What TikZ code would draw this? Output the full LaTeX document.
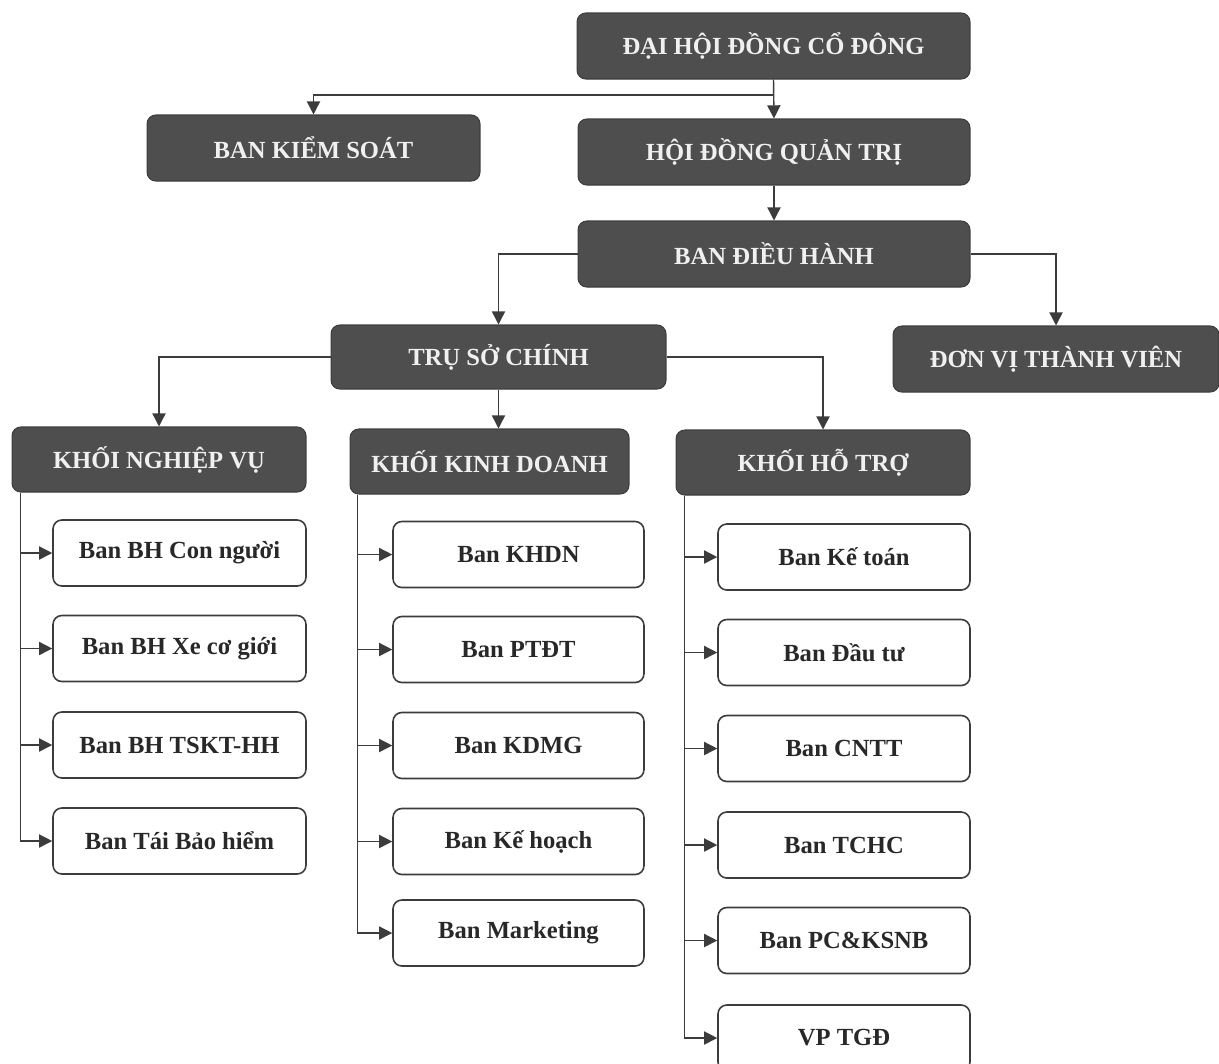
\documentclass[tikz,border=0pt]{standalone}
\usepackage{fontspec}
\setmainfont{Liberation Serif}
\usetikzlibrary{arrows.meta}
\definecolor{boxdark}{RGB}{78,78,78}
\definecolor{linecol}{RGB}{60,60,60}
\definecolor{txtdark}{RGB}{40,40,40}
\tikzset{
  darkbox/.style={rectangle, rounded corners=5pt, fill=boxdark, draw=boxdark!80!black, line width=0.6pt,
    text=white!94!black, font=\fontsize{14}{16}\selectfont\bfseries, inner sep=0pt, minimum height=1.32cm},
  lightbox/.style={rectangle, rounded corners=5pt, fill=white, draw=linecol, line width=0.9pt,
    text=txtdark, font=\fontsize{14}{16}\selectfont\bfseries, inner sep=0pt, minimum height=1.32cm},
  conn/.style={draw=linecol, line width=0.8pt},
  arr/.style={conn, -{Triangle[width=7.5pt,length=7.5pt]}},
  x=0.02cm, y=-0.02cm
}
\begin{document}
\begin{tikzpicture}
\clip (0,0) rectangle (1219,1063);
\fill[white] (0,0) rectangle (1219,1063);
% dark boxes
\node[darkbox, minimum width=7.86cm] (dh) at (773.5,46) {ĐẠI HỘI ĐỒNG CỔ ĐÔNG};
\node[darkbox, minimum width=6.66cm] (bks) at (313.5,148) {BAN KIỂM SOÁT};
\node[darkbox, minimum width=7.84cm] (hdqt) at (774,152) {HỘI ĐỒNG QUẢN TRỊ};
\node[darkbox, minimum width=7.84cm] (bdh) at (774,254) {BAN ĐIỀU HÀNH};
\node[darkbox, minimum width=6.7cm, minimum height=1.28cm] (tsc) at (498.5,357) {TRỤ SỞ CHÍNH};
\node[darkbox, minimum width=6.52cm] (dvtv) at (1056,359) {ĐƠN VỊ THÀNH VIÊN};
\node[darkbox, minimum width=5.88cm, minimum height=1.3cm] (knv) at (159,459.5) {KHỐI NGHIỆP VỤ};
\node[darkbox, minimum width=5.58cm, minimum height=1.3cm] (kkd) at (489.5,461.5) {KHỐI KINH DOANH};
\node[darkbox, minimum width=5.88cm, minimum height=1.3cm] (kht) at (823,462.5) {KHỐI HỖ TRỢ};
% light boxes: nghiep vu
\node[lightbox, minimum width=5.06cm] (n1) at (179.5,553) {Ban BH Con người};
\node[lightbox, minimum width=5.06cm] (n2) at (179.5,648.5) {Ban BH Xe cơ giới};
\node[lightbox, minimum width=5.06cm] (n3) at (179.5,745) {Ban BH TSKT-HH};
\node[lightbox, minimum width=5.06cm] (n4) at (179.5,841) {Ban Tái Bảo hiểm};
% kinh doanh
\node[lightbox, minimum width=5.02cm] (k1) at (518.5,554.5) {Ban KHDN};
\node[lightbox, minimum width=5.02cm] (k2) at (518.5,649.5) {Ban PTĐT};
\node[lightbox, minimum width=5.02cm] (k3) at (518.5,745.5) {Ban KDMG};
\node[lightbox, minimum width=5.02cm] (k4) at (518.5,841.5) {Ban Kế hoạch};
\node[lightbox, minimum width=5.02cm] (k5) at (518.5,933) {Ban Marketing};
% ho tro
\node[lightbox, minimum width=5.04cm] (h1) at (844,557) {Ban Kế toán};
\node[lightbox, minimum width=5.04cm] (h2) at (844,652.5) {Ban Đầu tư};
\node[lightbox, minimum width=5.04cm] (h3) at (844,748.5) {Ban CNTT};
\node[lightbox, minimum width=5.04cm] (h4) at (844,845) {Ban TCHC};
\node[lightbox, minimum width=5.04cm] (h5) at (844,940.5) {Ban PC\&KSNB};
\node[lightbox, minimum width=5.04cm] (h6) at (844,1038) {VP TGĐ};
% connectors top
\coordinate (j1) at (773,95);
\draw[arr] (dh.south) -- (hdqt.north);
\draw[arr] (j1) -| (bks.north);
\draw[arr] (hdqt.south) -- (bdh.north);
\draw[arr] (bdh.west) -| (tsc.north);
\draw[arr] (bdh.east) -| (dvtv.north);
\draw[arr] (tsc.west) -| (knv.north);
\draw[arr] (tsc.south) -- (kkd.north -| tsc.south);
\draw[arr] (tsc.east) -| (kht.north);
% trunks
\foreach \c in {n1,n2,n3,n4}
  \draw[arr] ([xshift=0.18cm]knv.south west) |- (\c.west);
\foreach \c in {k1,k2,k3,k4,k5}
  \draw[arr] ([xshift=0.16cm]kkd.south west) |- (\c.west);
\foreach \c in {h1,h2,h3,h4,h5,h6}
  \draw[arr] ([xshift=0.18cm]kht.south west) |- (\c.west);
\end{tikzpicture}
\end{document}
